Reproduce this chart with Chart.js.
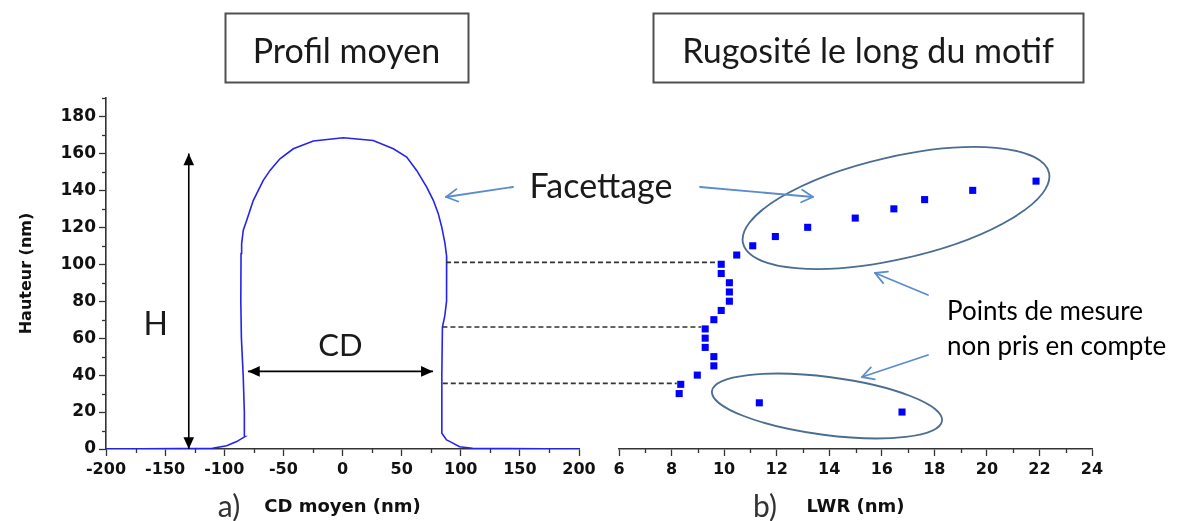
<!DOCTYPE html>
<html><head><meta charset="utf-8">
<script src="https://cdn.jsdelivr.net/npm/chart.js@4.4.1/dist/chart.umd.min.js"></script>
<style>
html,body{margin:0;padding:0;background:#fff;}
#wrap{position:relative;width:1181px;height:521px;overflow:hidden;background:#fff;}
canvas{position:absolute;top:0;}
#cl{left:0;} #cr{left:600px;}
svg{position:absolute;left:0;top:0;pointer-events:none;}
</style></head><body>
<div id="wrap">
<canvas id="cl" width="600" height="521"></canvas>
<canvas id="cr" width="581" height="521"></canvas>
<svg id="ov" width="1181" height="521" xmlns="http://www.w3.org/2000/svg"></svg>
</div>
<script>
// ---- data ----
const profileX = [-200,-110,-98,-89.5,-82.5,-83,-84,-85.5,-86,-85.8,-85.3,-83.9,-81,-78.2,-75.4,-71.2,-67,-61.3,-52.9,-41.6,-24.7,0.7,26,43,54.3,62.7,71.2,76.8,81,83.9,86.7,88.1,88,86.5,84.5,84,84,88,91,99,110,200];
const profileY = [0,0.4,1.8,4,6.7,20,40,60,80,105.8,111.2,118.4,123.8,129.2,134.6,140,145.4,150.8,157.1,162.5,166.7,168.5,167,162.5,158,150.8,141.8,134.6,127.4,120.2,111.2,104,80,72,66,40,8.5,4.9,4,1.2,0.4,0];
const lwrY = [20,25,30,35,40,45,50,55,60,65,70,75,80,85,90,95,100,105,110,115,120,125,130,135,140,145];
const lwrX = [16.77,11.34,8.29,8.35,8.98,9.61,9.61,9.28,9.28,9.28,9.61,9.89,10.2,10.2,10.2,9.89,9.89,10.48,11.09,11.95,13.18,14.99,16.46,17.63,19.46,21.87];
const heightRange = [0,190], heightStep = 20, heightMinor = 10;
const cdRange = [-200,200], cdStep = 50, cdMinor = 25;
const lwrRange = [6,24], lwrStep = 2, lwrMinor = 1;

// annotation anchors (data units)
const hArrow = {x:-130, y0:0, y1:160};
const cdArrow = {y:42, x0:-80, x1:76.5};
const guideLevels = [101, 66, 35.5];
const guideFromCD = [87.5, 84.5, 84.8];
const guideToLWR = [9.89, 9.28, 8.35];

const AXIS = '#333';
const TXT = '#111';

const minorTicks = {
  id:'minorTicks',
  afterDraw(chart, args, opts){
    const ctx = chart.ctx; ctx.save(); ctx.strokeStyle = AXIS; ctx.lineWidth = 1.3;
    for (const [id, step, len] of opts.list) {
      const s = chart.scales[id];
      for (let v = s.min; v <= s.max + 1e-9; v += step) {
        if (s.ticks.some(t => Math.abs(t.value - v) < 1e-9)) continue;
        ctx.beginPath();
        if (s.isHorizontal()) { const x = Math.round(s.getPixelForValue(v))+0.5; ctx.moveTo(x, s.top); ctx.lineTo(x, s.top+len); }
        else { const y = Math.round(s.getPixelForValue(v))+0.5; ctx.moveTo(s.right, y); ctx.lineTo(s.right-len, y); }
        ctx.stroke();
      }
    }
    ctx.restore();
  }
};

const tickFontY = {family:'DejaVu Sans', weight:'bold', size:17};
const tickFontX = {family:'DejaVu Sans', weight:'bold', size:16};

function xAxis(range, step, title){
  return {
    type:'linear', min:range[0], max:range[1],
    ticks:{stepSize:step, includeBounds:false, color:TXT, font:tickFontX, padding:4, maxRotation:0, autoSkip:false},
    grid:{display:true, drawOnChartArea:false, drawTicks:true, tickLength:7, tickColor:AXIS, tickWidth:1.3},
    border:{display:true, color:AXIS, width:1.6},
    title:{display:true, text:title, color:TXT, font:{family:'DejaVu Sans', weight:'bold', size:18}, padding:{top:0,bottom:3}},
    afterFit(s){ s.height = 72; }
  };
}

const L = new Chart(document.getElementById('cl'), {
  type:'scatter',
  data:{datasets:[{data:profileX.map((x,i)=>({x, y:profileY[i]})), showLine:true, borderColor:'#2424ee', borderWidth:1.6, pointRadius:0, tension:0}]},
  options:{
    responsive:false, animation:false, devicePixelRatio:1,
    layout:{padding:{left:0, right:21, top:98, bottom:0}},
    plugins:{legend:{display:false}, tooltip:{enabled:false}, minorTicks:{list:[['x',cdMinor,4],['y',heightMinor,4]]}},
    scales:{
      x: xAxis(cdRange, cdStep, 'CD moyen (nm)'),
      y:{type:'linear', min:heightRange[0], max:heightRange[1],
        ticks:{stepSize:heightStep, includeBounds:false, color:TXT, font:tickFontY, padding:3},
        grid:{display:true, drawOnChartArea:false, drawTicks:true, tickLength:7, tickColor:AXIS, tickWidth:1.3},
        border:{display:true, color:AXIS, width:1.6},
        title:{display:true, text:'Hauteur (nm)', color:TXT, font:{family:'DejaVu Sans', weight:'bold', size:16}, padding:{top:17,bottom:0}},
        afterFit(s){ s.width = 106; }
      }
    }
  },
  plugins:[minorTicks]
});

const R = new Chart(document.getElementById('cr'), {
  type:'scatter',
  data:{datasets:[{data:lwrX.map((x,i)=>({x, y:lwrY[i]})), pointStyle:'rect', pointRadius:5, backgroundColor:'#0000ff', borderWidth:0}]},
  options:{
    responsive:false, animation:false, devicePixelRatio:1,
    layout:{padding:{left:19, right:89, top:98, bottom:0}},
    plugins:{legend:{display:false}, tooltip:{enabled:false}, minorTicks:{list:[['x',lwrMinor,4]]}},
    scales:{
      x: xAxis(lwrRange, lwrStep, 'LWR (nm)'),
      y:{type:'linear', min:heightRange[0], max:heightRange[1], display:false}
    }
  },
  plugins:[minorTicks]
});

// ---- overlay ----
const NS='http://www.w3.org/2000/svg';
const svg=document.getElementById('ov');
function el(tag, attrs, text){ const e=document.createElementNS(NS,tag); for(const k in attrs) e.setAttribute(k,attrs[k]); if(text!=null) e.textContent=text; svg.appendChild(e); return e; }
const lx = v => L.scales.x.getPixelForValue(v);
const rx = v => R.scales.x.getPixelForValue(v) + 600;
const py = v => L.scales.y.getPixelForValue(v);

function head(x1,y1,x2,y2,color,w,open,len,ang){
  const a=Math.atan2(y2-y1,x2-x1);
  const p1=[x2-len*Math.cos(a-ang), y2-len*Math.sin(a-ang)];
  const p2=[x2-len*Math.cos(a+ang), y2-len*Math.sin(a+ang)];
  if(open) el('polyline',{points:`${p1[0]},${p1[1]} ${x2},${y2} ${p2[0]},${p2[1]}`, fill:'none', stroke:color,'stroke-width':w,'stroke-linecap':'round','stroke-linejoin':'round'});
  else el('polygon',{points:`${p1[0]},${p1[1]} ${x2},${y2} ${p2[0]},${p2[1]}`, fill:color});
}
function openArrow(x1,y1,x2,y2){
  const c='#5b8ccb';
  el('line',{x1,y1,x2,y2,stroke:c,'stroke-width':1.8,'stroke-linecap':'round'});
  head(x1,y1,x2,y2,c,1.8,true,13,0.5);
}
function dblArrow(x1,y1,x2,y2){
  const c='#000';
  el('line',{x1,y1,x2,y2,stroke:c,'stroke-width':1.6});
  head(x1,y1,x2,y2,c,1,false,13,0.42);
  head(x2,y2,x1,y1,c,1,false,13,0.42);
}
function text(x,y,s,size,opts={}){
  return el('text',Object.assign({x,y,'font-family':'Lato, "Open Sans", sans-serif','font-size':size,fill:opts.fill||'#1a1a1a','text-anchor':opts.anchor||'middle','dominant-baseline':'central'}, opts.attrs||{}), s);
}

// title boxes
el('rect',{x:225.5,y:13.5,width:243,height:69,fill:'#fff',stroke:'#505050','stroke-width':2});
text(346.5,49,'Profil moyen',34);
el('rect',{x:653.5,y:13.5,width:430,height:69,fill:'#fff',stroke:'#505050','stroke-width':2});
text(868,49,'Rugosité le long du motif',34);

// dashed guide lines
guideLevels.forEach((lv,i)=>{
  el('line',{x1:lx(guideFromCD[i]), y1:py(lv), x2:rx(guideToLWR[i])-4, y2:py(lv), stroke:'#333','stroke-width':1.6,'stroke-dasharray':'5 3'});
});

// H and CD arrows
dblArrow(lx(hArrow.x), py(hArrow.y1), lx(hArrow.x), py(hArrow.y0));
text(lx(hArrow.x)-33, 322, 'H', 32);
dblArrow(lx(cdArrow.x0), py(cdArrow.y), lx(cdArrow.x1), py(cdArrow.y));
text((lx(cdArrow.x0)+lx(cdArrow.x1))/2, 344, 'CD', 31);

// ellipses
el('ellipse',{cx:896,cy:208,rx:157,ry:51,transform:'rotate(-13 896 208)',fill:'none',stroke:'#4c6d92','stroke-width':1.8});
el('ellipse',{cx:827,cy:406,rx:116,ry:29,transform:'rotate(7.4 827 406)',fill:'none',stroke:'#4c6d92','stroke-width':1.8});

// Facettage
text(601,184,'Facettage',34);
openArrow(513,187,446,197);
openArrow(700,187,813,197);

// Points de mesure
text(947,310,'Points de mesure',26,{anchor:'start',fill:'#000'});
text(947,345,'non pris en compte',26,{anchor:'start',fill:'#000'});
openArrow(928,295,875,273);
openArrow(928,355,862,377);

// panel labels
text(229,505,'a)',30,{fill:'#333'});
text(765,505,'b)',30,{fill:'#333'});
</script>
</body></html>
